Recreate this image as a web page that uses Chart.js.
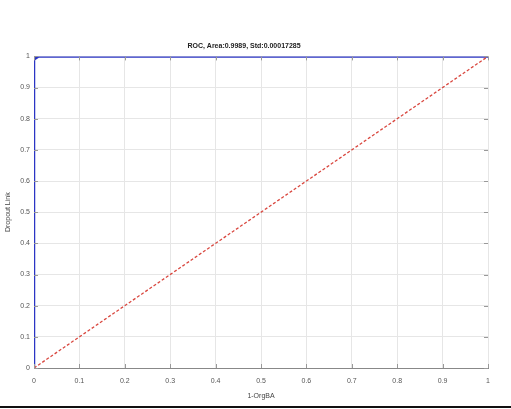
<!DOCTYPE html>
<html>
<head>
<meta charset="utf-8">
<script src="https://cdn.jsdelivr.net/npm/chart.js@4.4.0/dist/chart.umd.min.js"></script>
<style>
  html, body { margin: 0; padding: 0; background: #fff; }
  #wrap { position: relative; width: 511px; height: 409px; }
  #bar { position: absolute; left: 0; top: 406px; width: 511px; height: 2px; background: #111; }
</style>
</head>
<body>
<div id="wrap">
  <canvas id="roc" width="511" height="409"></canvas>
  <div id="bar"></div>
</div>
<script>
// ROC curve points (1-specificity, sensitivity)
var rocX = [0, 0, 0.01, 1];
var rocY = [0, 0.99, 1, 1];
// chance line
var diagX = [0, 1];
var diagY = [0, 1];
var tickLabels = ['0', '0.1', '0.2', '0.3', '0.4', '0.5', '0.6', '0.7', '0.8', '0.9', '1'];

function toPoints(xs, ys) {
    return xs.map(function (x, i) { return { x: x, y: ys[i] }; });
}

// small tick marks pointing into the plot, like MATLAB
var innerTicks = {
    id: 'innerTicks',
    afterDatasetsDraw: function (chart) {
        var ctx = chart.ctx, a = chart.chartArea;
        var xs = chart.scales.x, ys = chart.scales.y;
        ctx.save();
        ctx.strokeStyle = '#999';
        ctx.lineWidth = 1;
        for (var i = 0; i < tickLabels.length; i++) {
            var v = i / 10;
            var px = Math.round(xs.getPixelForValue(v)) + 0.5;
            var py = Math.round(ys.getPixelForValue(v)) + 0.5;
            ctx.beginPath();
            ctx.moveTo(px, a.bottom); ctx.lineTo(px, a.bottom - 4);
            ctx.moveTo(px, a.top); ctx.lineTo(px, a.top + 4);
            ctx.moveTo(a.left, py); ctx.lineTo(a.left + 4, py);
            ctx.moveTo(a.right, py); ctx.lineTo(a.right - 4, py);
            ctx.stroke();
        }
        ctx.restore();
    }
};

var ctx = document.getElementById('roc').getContext('2d');
new Chart(ctx, {
    type: 'scatter',
    data: {
        datasets: [{
            data: toPoints(diagX, diagY),
            showLine: true,
            borderColor: '#d9473f',
            borderWidth: 1.3,
            borderDash: [3, 2],
            pointRadius: 0
        }, {
            data: toPoints(rocX, rocY),
            showLine: true,
            borderColor: '#2b35c4',
            borderWidth: 2.5,
            pointRadius: 0
        }]
    },
    plugins: [innerTicks],
    options: {
        responsive: false,
        animation: false,
        layout: { padding: { top: 0, right: 23, bottom: 5, left: 0 } },
        plugins: {
            legend: { display: false },
            tooltip: { enabled: false },
            title: {
                display: true,
                text: 'ROC, Area:0.9989, Std:0.00017285',
                color: '#222',
                font: { family: 'Liberation Sans', size: 7, weight: 'bold' },
                padding: { top: 42, bottom: 6 }
            }
        },
        scales: {
            x: {
                type: 'linear',
                min: 0, max: 1,
                afterFit: function (s) { s.height = 36; },
                ticks: {
                    stepSize: 0.1,
                    color: '#555',
                    font: { family: 'Liberation Sans', size: 7 },
                    padding: 9,
                    callback: function (v, i) { return tickLabels[i]; }
                },
                grid: { color: '#e6e6e6', drawTicks: false },
                border: { color: '#888' },
                title: {
                    display: true,
                    text: '1-OrgBA',
                    color: '#444',
                    font: { family: 'Liberation Sans', size: 7 },
                    padding: { top: 0 }
                }
            },
            y: {
                type: 'linear',
                min: 0, max: 1,
                afterFit: function (s) { s.width = 34; },
                ticks: {
                    stepSize: 0.1,
                    color: '#555',
                    font: { family: 'Liberation Sans', size: 7 },
                    padding: 4,
                    callback: function (v, i) { return tickLabels[i]; }
                },
                grid: { color: '#e6e6e6', drawTicks: false },
                border: { color: '#888' },
                title: {
                    display: true,
                    text: 'Dropout Link',
                    color: '#444',
                    font: { family: 'Liberation Sans', size: 7 },
                    padding: { bottom: 2 }
                }
            }
        }
    }
});
</script>
</body>
</html>
